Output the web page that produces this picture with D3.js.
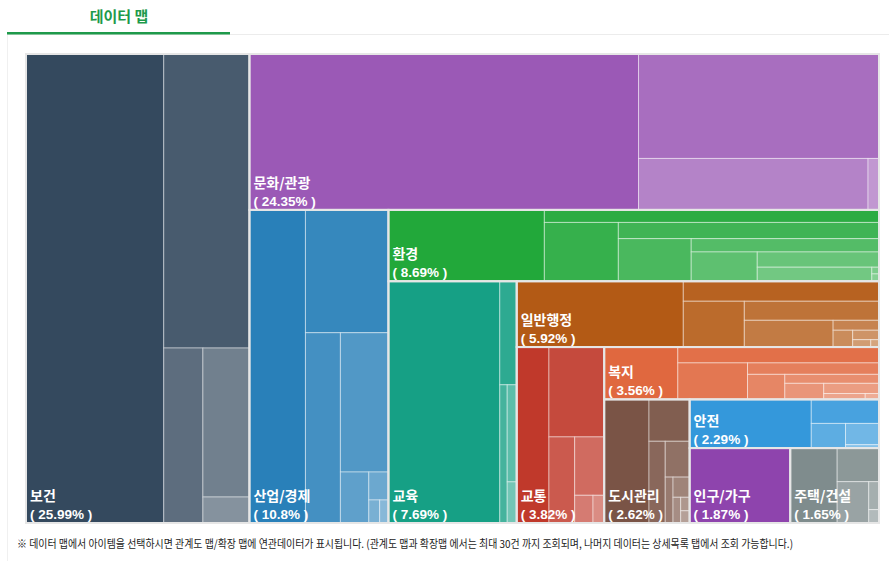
<!DOCTYPE html>
<html>
<head>
<meta charset="utf-8">
<script src="https://cdn.jsdelivr.net/npm/d3@7/dist/d3.min.js"></script>
<style>
  body { margin: 0; background: #fff; }
  svg { display: block; }
</style>
</head>
<body>
<svg id="chart" width="891" height="561"></svg>
<script>
// category shares (%), in drawing order
var categories = ["보건", "문화/관광", "산업/경제", "환경", "교육", "일반행정", "교통", "복지", "도시관리", "안전", "인구/가구", "주택/건설"];
var shares = [25.99, 24.35, 10.8, 8.69, 7.69, 5.92, 3.82, 3.56, 2.62, 2.29, 1.87, 1.65];
var baseColors = ["#34495e", "#9b59b6", "#2980b9", "#22a83a", "#16a085", "#b35a15", "#c0392b", "#e0683f", "#7a5446", "#3498db", "#8e44ad", "#7f8c8d"];

// items inside each category (% of total)
var subShares = [
  [16.03, 6.25, 1.70, 1.72, 0.30],
  [15.05, 6.23, 2.93, 0.14],
  [4.35, 2.53, 1.65, 1.66, 0.36, 0.136, 0.062, 0.050],
  [2.76, 1.04, 1.08, 1.05, 0.77, 0.62, 0.48, 0.46, 0.40, 0.012, 0.013],
  [6.68, 0.434, 0.253, 0.229, 0.097],
  [2.72, 0.97, 0.694, 0.637, 0.590, 0.113, 0.082, 0.062, 0.033, 0.015],
  [1.408, 1.232, 0.550, 0.427, 0.126, 0.077],
  [0.956, 0.792, 0.630, 0.372, 0.232, 0.210, 0.155, 0.14, 0.06, 0.02],
  [1.374, 0.422, 0.329, 0.217, 0.089, 0.083, 0.049, 0.030, 0.027],
  [1.470, 0.404, 0.210, 0.177, 0.028],
  [1.87],
  [0.872, 0.349, 0.324, 0.071, 0.034]
];

var footnote = "※ 데이터 맵에서 아이템을 선택하시면 관계도 맵/확장 맵에 연관데이터가 표시됩니다. (관계도 맵과 확장맵 에서는 최대 30건 까지 조회되며, 나머지 데이터는 상세목록 탭에서 조회 가능합니다.)";

var svg = d3.select("#chart");

// tab header
svg.append("line").attr("x1", 7).attr("x2", 889).attr("y1", 34.5).attr("y2", 34.5)
  .attr("stroke", "#ececec").attr("stroke-width", 1);
svg.append("line").attr("x1", 7.5).attr("x2", 7.5).attr("y1", 34).attr("y2", 561)
  .attr("stroke", "#f0f0f0").attr("stroke-width", 1);
svg.append("rect").attr("x", 7).attr("y", 32).attr("width", 223).attr("height", 2.5).attr("fill", "#1e9a4b");
svg.append("text").attr("x", 119).attr("y", 22).attr("text-anchor", "middle")
  .style("font-family", "'Noto Sans CJK KR', sans-serif").style("font-weight", "bold")
  .style("font-size", "15px").attr("fill", "#1e9a4b").text("데이터 맵");

// alternate slice / dice for every item, starting with a vertical strip
function sliceDice(parent, x0, y0, x1, y1) {
  var remaining = parent.value;
  var vertical = true;
  parent.children.forEach(function (node) {
    var f = remaining > 0 ? node.value / remaining : 0;
    if (vertical) {
      var xm = x0 + (x1 - x0) * f;
      node.x0 = x0; node.x1 = xm; node.y0 = y0; node.y1 = y1;
      x0 = xm;
    } else {
      var ym = y0 + (y1 - y0) * f;
      node.x0 = x0; node.x1 = x1; node.y0 = y0; node.y1 = ym;
      y0 = ym;
    }
    remaining -= node.value;
    vertical = !vertical;
  });
}

var data = {
  name: "root",
  children: categories.map(function (c, i) {
    return {
      name: c, share: shares[i], color: baseColors[i],
      children: subShares[i].map(function (v, j) { return { name: c + j, value: v, index: j, count: subShares[i].length }; })
    };
  })
};

var root = d3.hierarchy(data).sum(function (d) { return d.value || 0; });
d3.treemap().size([853, 469]).tile(sliceDice).round(false)(root);

var g = svg.append("g").attr("transform", "translate(26,54)");

g.selectAll("rect.leaf")
  .data(root.leaves())
  .join("rect")
  .attr("class", "leaf")
  .attr("x", function (d) { return d.x0; })
  .attr("y", function (d) { return d.y0; })
  .attr("width", function (d) { return Math.max(0, d.x1 - d.x0); })
  .attr("height", function (d) { return Math.max(0, d.y1 - d.y0); })
  .attr("fill", function (d) {
    var base = d.parent.data.color;
    return d3.interpolateRgb(base, "#ffffff")(0.5 * d.data.index / d.data.count);
  })
  .attr("stroke", "rgba(255,255,255,0.45)")
  .attr("stroke-width", 1);

var cats = g.selectAll("g.cat")
  .data(root.children)
  .join("g")
  .attr("class", "cat");

cats.append("rect")
  .attr("x", function (d) { return d.x0; })
  .attr("y", function (d) { return d.y0; })
  .attr("width", function (d) { return d.x1 - d.x0; })
  .attr("height", function (d) { return d.y1 - d.y0; })
  .attr("fill", "none")
  .attr("stroke", "#e6e6e6")
  .attr("stroke-width", 2);

var label = cats.append("text")
  .attr("fill", "#ffffff")
  .style("font-family", "'Noto Sans CJK KR', 'Liberation Sans', sans-serif")
  .style("font-weight", "bold")
  .style("font-size", "14px");

label.append("tspan")
  .attr("x", function (d) { return d.x0 + 4; })
  .attr("y", function (d) { return d.y1 - 22; })
  .text(function (d) { return d.data.name; });
label.append("tspan")
  .attr("x", function (d) { return d.x0 + 4; })
  .attr("y", function (d) { return d.y1 - 4; })
  .style("font-family", "'Liberation Sans', Arial, sans-serif")
  .style("font-size", "13.5px")
  .text(function (d) { return "( " + d.data.share + "% )"; });

// outer frame
g.append("rect").attr("x", 0).attr("y", 0).attr("width", 853).attr("height", 469)
  .attr("fill", "none").attr("stroke", "#e6e6e6").attr("stroke-width", 1);

svg.append("text").attr("x", 17).attr("y", 548)
  .style("font-family", "'Noto Sans CJK KR', sans-serif")
  .style("font-size", "11px")
  .attr("fill", "#222")
  .attr("textLength", 776).attr("lengthAdjust", "spacingAndGlyphs")
  .text(footnote);
</script>
</body>
</html>
